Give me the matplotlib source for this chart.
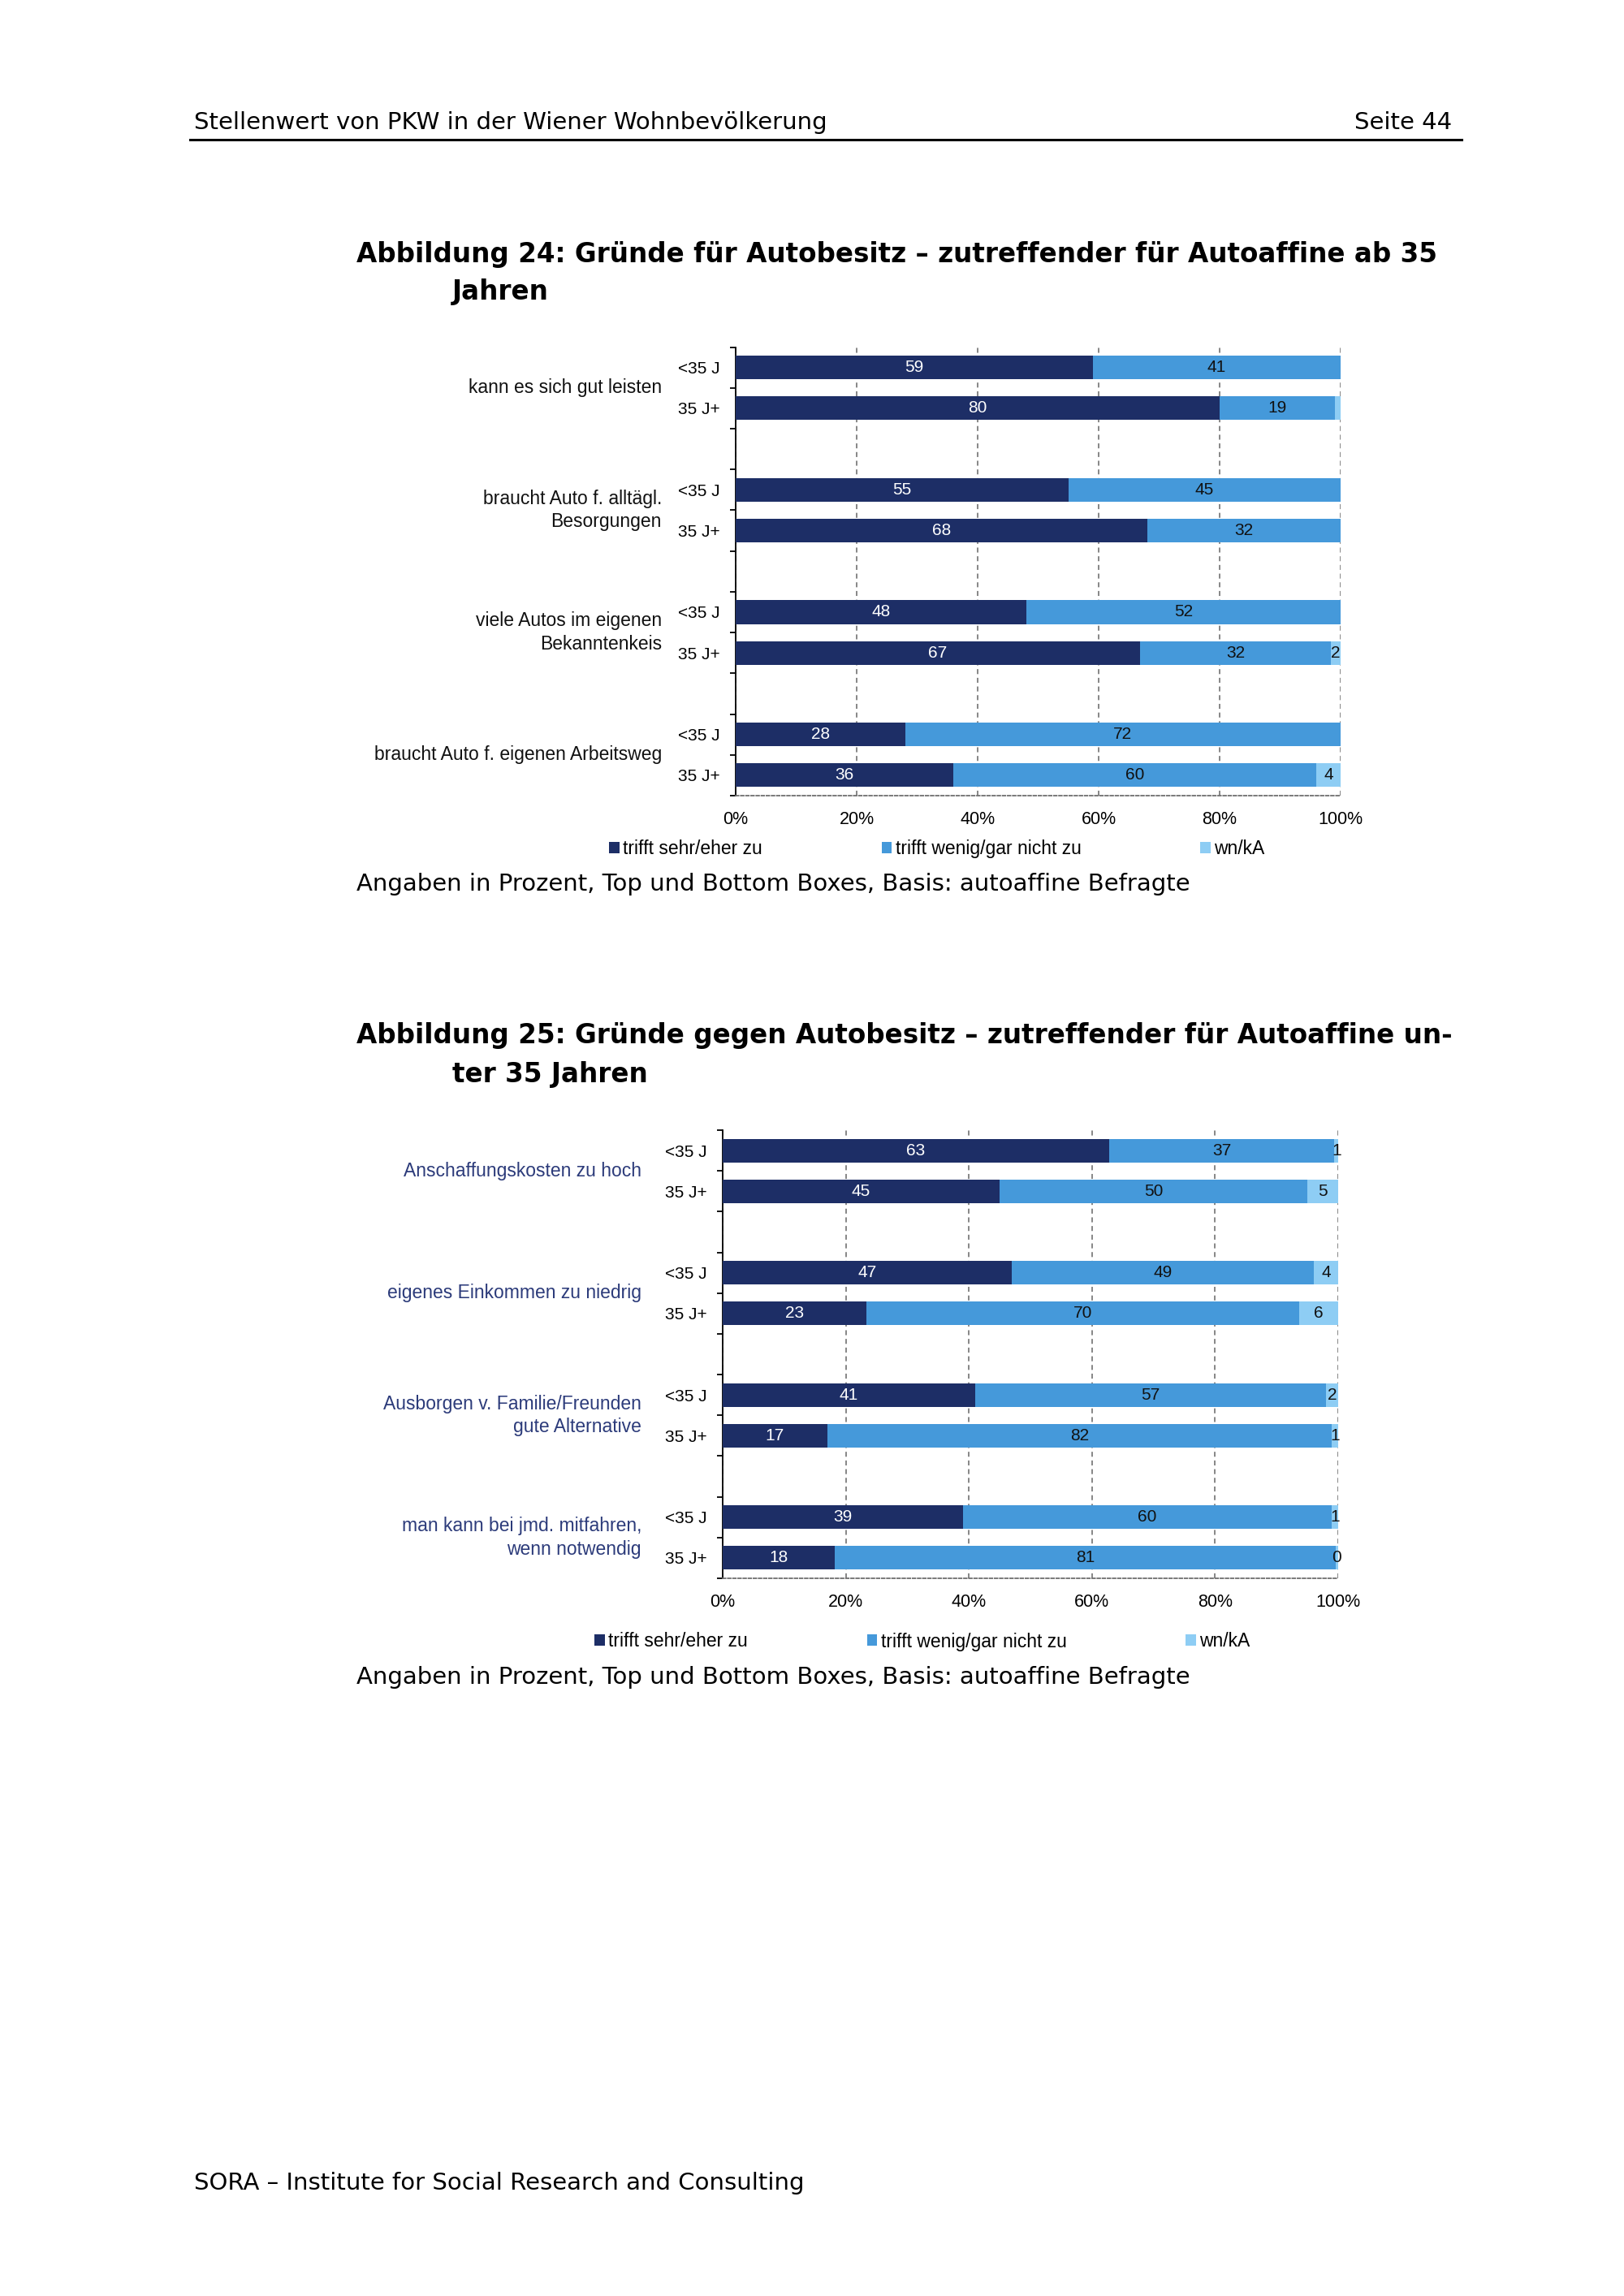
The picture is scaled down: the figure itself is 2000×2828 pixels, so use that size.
import matplotlib
matplotlib.use("Agg")
import matplotlib.pyplot as plt
from matplotlib.patches import Patch

plt.rcParams['font.family'] = ['Liberation Sans', 'DejaVu Sans']
PAGE_FONT = ['DejaVu Sans']

W, H = 2000, 2828

# ---- data -------------------------------------------------------------
age_groups = ['<35 J', '35 J+']
series_names = ['trifft sehr/eher zu', 'trifft wenig/gar nicht zu', 'wn/kA']

items_24 = ['kann es sich gut leisten',
            'braucht Auto f. alltägl.\nBesorgungen',
            'viele Autos im eigenen\nBekanntenkeis',
            'braucht Auto f. eigenen Arbeitsweg']
# one value per bar, order: item1 <35, item1 35+, item2 <35, ...
zu_24 = [59, 80, 55, 68, 48, 66.8, 28, 36]
nicht_24 = [41, 19, 45, 32, 52, 31.6, 72, 60]
wnka_24 = [0, 1, 0, 0, 0, 1.6, 0, 4]

items_25 = ['Anschaffungskosten zu hoch',
            'eigenes Einkommen zu niedrig',
            'Ausborgen v. Familie/Freunden\ngute Alternative',
            'man kann bei jmd. mitfahren,\nwenn notwendig']
zu_25 = [62.8, 45, 47, 23.4, 41, 17, 39, 18.2]
nicht_25 = [36.6, 50, 49, 70.3, 57, 82, 60, 81.4]
wnka_25 = [0.6, 5, 4, 6.3, 2, 1, 1, 0.4]

x_ticks = [0, 20, 40, 60, 80, 100]
x_ticklabels = ['0%', '20%', '40%', '60%', '80%', '100%']

# ---- style ------------------------------------------------------------
c_dark = '#1d2e66'
c_mid = '#4599da'
c_light = '#8ecdf4'
colors = [c_dark, c_mid, c_light]


def fx(px):
    return px / W


def fy(py):
    return 1 - py / H


def add_chart(fig, box, label_right, items, zu, nicht, wnka, label_color, min_wn_label, legend_pos):
    left, top, right, bottom = box
    ax = fig.add_axes([fx(left), fy(bottom), fx(right) - fx(left), fy(top) - fy(bottom)])

    # rows: two bars per item, one blank row between items
    rows = []
    for g in range(len(items)):
        rows += [3 * g, 3 * g + 1]
    n_rows = 3 * len(items) - 1

    segs = [zu, nicht, wnka]
    lefts = [0] * len(rows)
    handles = []
    for s, vals in enumerate(segs):
        ax.barh(rows, vals, left=lefts, height=0.58, color=colors[s], zorder=3)
        handles.append(Patch(facecolor=colors[s], label=series_names[s]))
        for r, v, l0 in zip(rows, vals, lefts):
            if s == 2 and v < min_wn_label:
                continue
            tc = 'white' if s == 0 else '#111111'
            ax.text(l0 + v / 2, r, f'{v:.0f}', ha='center', va='center', fontsize=15,
                    color=tc, zorder=4, clip_on=False)
        lefts = [a + v for a, v in zip(lefts, vals)]

    ax.set_xlim(0, 100)
    ax.set_ylim(n_rows - 0.5, -0.5)

    ax.set_xticks(x_ticks)
    ax.set_xticklabels(x_ticklabels, fontsize=15.5)
    ax.tick_params(axis='x', length=0, pad=14)

    ax.set_yticks(rows)
    ax.set_yticklabels(age_groups * len(items), fontsize=15)
    ax.set_yticks([i - 0.5 for i in range(n_rows + 1)], minor=True)
    ax.tick_params(axis='y', which='major', length=0, pad=14)
    ax.tick_params(axis='y', which='minor', length=5, width=1.3, direction='out')

    ax.xaxis.grid(True, linestyle=(0, (4, 3)), color='#666666', linewidth=1.1)
    ax.set_axisbelow(True)

    for sp in ['top', 'right']:
        ax.spines[sp].set_visible(False)
    ax.spines['left'].set_linewidth(1.3)
    ax.spines['bottom'].set_linestyle((0, (2, 1.5)))
    ax.spines['bottom'].set_color('#6f6f6f')
    ax.spines['bottom'].set_linewidth(1.3)

    # group labels left of the row labels
    off = -(left - label_right) * 0.72
    for g, name in enumerate(items):
        ax.annotate(name, xy=(0, 3 * g + 0.5), xycoords=('axes fraction', 'data'),
                    xytext=(off, 0), textcoords='offset points',
                    ha='right', va='center', fontsize=16.5, color=label_color,
                    multialignment='right', linespacing=1.3)

    lx, ly = legend_pos
    fig.legend(handles=handles, loc='center left', bbox_to_anchor=(fx(lx), fy(ly)),
               ncol=3, frameon=False, fontsize=16.5, handlelength=0.55, handleheight=0.55,
               handletextpad=0.2, columnspacing=6.4, borderpad=0, borderaxespad=0)
    return ax


fig = plt.figure(figsize=(W / 100, H / 100), dpi=100)

# header / footer
fig.text(fx(239), fy(159), 'Stellenwert von PKW in der Wiener Wohnbevölkerung',
         fontsize=21, va='baseline', ha='left', family=PAGE_FONT)
fig.text(fx(1788), fy(159), 'Seite 44', fontsize=21, va='baseline', ha='right', family=PAGE_FONT)
fig.add_artist(plt.Line2D([fx(234), fx(1800)], [fy(172), fy(172)], color='black', lw=2.2))
fig.text(fx(239), fy(2697), 'SORA – Institute for Social Research and Consulting',
         fontsize=21, va='baseline', ha='left', family=PAGE_FONT)

# figure 24
fig.text(fx(439), fy(323), 'Abbildung 24: Gründe für Autobesitz – zutreffender für Autoaffine ab 35',
         fontsize=23.5, fontweight='bold', va='baseline', ha='left', family=PAGE_FONT)
fig.text(fx(557), fy(369), 'Jahren', fontsize=23.5, fontweight='bold', va='baseline', ha='left',
         family=PAGE_FONT)
add_chart(fig, (906, 427.5, 1651, 980), 815, items_24, zu_24, nicht_24, wnka_24,
          '#111111', 1.5, (750, 1046))
fig.text(fx(439), fy(1097), 'Angaben in Prozent, Top und Bottom Boxes, Basis: autoaffine Befragte',
         fontsize=21, va='baseline', ha='left', family=PAGE_FONT)

# figure 25
fig.text(fx(439), fy(1285), 'Abbildung 25: Gründe gegen Autobesitz – zutreffender für Autoaffine un-',
         fontsize=23.5, fontweight='bold', va='baseline', ha='left', family=PAGE_FONT)
fig.text(fx(557), fy(1333), 'ter 35 Jahren', fontsize=23.5, fontweight='bold', va='baseline',
         ha='left', family=PAGE_FONT)
add_chart(fig, (890, 1392, 1648, 1944), 790, items_25, zu_25, nicht_25, wnka_25,
          '#2c3b7a', 0, (732, 2022))
fig.text(fx(439), fy(2074), 'Angaben in Prozent, Top und Bottom Boxes, Basis: autoaffine Befragte',
         fontsize=21, va='baseline', ha='left', family=PAGE_FONT)

fig.savefig('out.png', dpi=100, facecolor='white')
